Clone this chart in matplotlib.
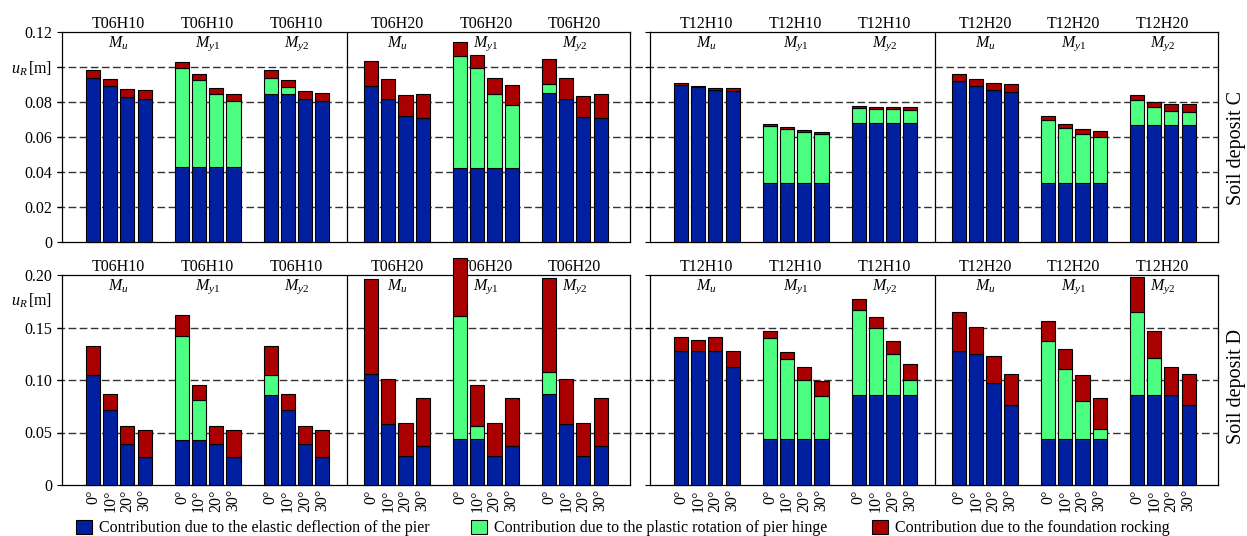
import numpy as np
import matplotlib
matplotlib.use("Agg")
import matplotlib.pyplot as plt
import matplotlib.transforms as mtransforms
from matplotlib.patches import Patch

plt.rcParams['font.family'] = ['Liberation Serif', 'DejaVu Serif']
plt.rcParams['mathtext.fontset'] = 'custom'
plt.rcParams['mathtext.rm'] = 'Liberation Serif'
plt.rcParams['mathtext.it'] = 'Liberation Serif:italic'
plt.rcParams['font.size'] = 11.5

# categories
angles = ['0°', '10°', '20°', '30°']
methods = [r'$M_u$', r'$M_{y\mathrm{1}}$', r'$M_{y\mathrm{2}}$']
legend_labels = ['Contribution due to the elastic deflection of the pier',
                 'Contribution due to the plastic rotation of pier hinge',
                 'Contribution due to the foundation rocking']

# Soil deposit C  (rows: Mu, My1, My2 ; columns: 0,10,20,30 deg)
C_T06H10_el = [[0.0936, 0.0889, 0.0831, 0.0816], [0.0426, 0.0426, 0.0426, 0.0426], [0.0845, 0.0843, 0.0818, 0.0803]]
C_T06H10_pl = [[0, 0, 0, 0], [0.0568, 0.0501, 0.0417, 0.0377], [0.0095, 0.0042, 0, 0]]
C_T06H10_ro = [[0.0048, 0.0044, 0.0044, 0.0052], [0.0032, 0.0034, 0.0036, 0.0040], [0.0044, 0.0040, 0.0046, 0.0047]]

C_T06H20_el = [[0.0893, 0.0815, 0.0718, 0.0709], [0.0425, 0.0425, 0.0425, 0.0425], [0.0850, 0.0817, 0.0716, 0.0709]]
C_T06H20_pl = [[0, 0, 0, 0], [0.0636, 0.0569, 0.0423, 0.0360], [0.0055, 0, 0, 0]]
C_T06H20_ro = [[0.0141, 0.0118, 0.0120, 0.0139], [0.0080, 0.0073, 0.0091, 0.0110], [0.0139, 0.0118, 0.0120, 0.0139]]

C_T12H10_el = [[0.0899, 0.0884, 0.0870, 0.0865], [0.0339, 0.0339, 0.0339, 0.0339], [0.0680, 0.0680, 0.0680, 0.0680]]
C_T12H10_pl = [[0, 0, 0, 0], [0.0326, 0.0307, 0.0288, 0.0278], [0.0088, 0.0078, 0.0078, 0.0076]]
C_T12H10_ro = [[0.0011, 0.0009, 0.0012, 0.0015], [0.0007, 0.0009, 0.0013, 0.0013], [0.0011, 0.0012, 0.0013, 0.0015]]

C_T12H20_el = [[0.0922, 0.0893, 0.0867, 0.0859], [0.0339, 0.0339, 0.0339, 0.0339], [0.0670, 0.0670, 0.0670, 0.0670]]
C_T12H20_pl = [[0, 0, 0, 0], [0.0360, 0.0314, 0.0278, 0.0261], [0.0141, 0.0103, 0.0080, 0.0075]]
C_T12H20_ro = [[0.0036, 0.0037, 0.0040, 0.0046], [0.0021, 0.0019, 0.0031, 0.0036], [0.0031, 0.0029, 0.0037, 0.0045]]

# Soil deposit D
D_T06H10_el = [[0.1044, 0.0711, 0.0387, 0.0270], [0.0429, 0.0429, 0.0387, 0.0267], [0.0860, 0.0711, 0.0387, 0.0270]]
D_T06H10_pl = [[0, 0, 0, 0], [0.0993, 0.0377, 0, 0], [0.0191, 0, 0, 0]]
D_T06H10_ro = [[0.0280, 0.0156, 0.0175, 0.0251], [0.0197, 0.0150, 0.0175, 0.0254], [0.0273, 0.0156, 0.0175, 0.0251]]

D_T06H20_el = [[0.1054, 0.0581, 0.0273, 0.0368], [0.0435, 0.0438, 0.0273, 0.0368], [0.0863, 0.0581, 0.0273, 0.0368]]
D_T06H20_pl = [[0, 0, 0, 0], [0.1175, 0.0121, 0, 0], [0.0216, 0, 0, 0]]
D_T06H20_ro = [[0.0911, 0.0425, 0.0317, 0.0464], [0.0552, 0.0393, 0.0314, 0.0457], [0.0889, 0.0425, 0.0317, 0.0464]]

D_T12H10_el = [[0.1279, 0.1279, 0.1279, 0.1124], [0.0435, 0.0435, 0.0435, 0.0435], [0.0860, 0.0860, 0.0860, 0.0860]]
D_T12H10_pl = [[0, 0, 0, 0], [0.0962, 0.0762, 0.0568, 0.0413], [0.0807, 0.0638, 0.0384, 0.0143]]
D_T12H10_ro = [[0.0131, 0.0102, 0.0127, 0.0155], [0.0073, 0.0070, 0.0118, 0.0139], [0.0108, 0.0105, 0.0131, 0.0146]]

D_T12H20_el = [[0.1279, 0.1248, 0.0975, 0.0759], [0.0435, 0.0435, 0.0435, 0.0435], [0.0860, 0.0860, 0.0860, 0.0759]]
D_T12H20_pl = [[0, 0, 0, 0], [0.0933, 0.0673, 0.0365, 0.0102], [0.0791, 0.0353, 0, 0]]
D_T12H20_ro = [[0.0369, 0.0254, 0.0257, 0.0295], [0.0194, 0.0184, 0.0244, 0.0295], [0.0327, 0.0254, 0.0261, 0.0295]]

blue, green, red = '#0020a0', '#4dff80', '#aa0000'
W, H = 1247, 536
width = 0.82
# first bar centre of each group inside one panel (bar pitch = 1)
group_x = [1.8, 6.97, 12.14, 17.97, 23.14, 28.31]
x_max = 33.02
divider = 16.57

fig = plt.figure(figsize=(W / 100, H / 100), dpi=100)


def draw_half(ax, xs, el, pl, ro, name):
    for g in range(3):
        x = xs[g] + np.arange(4)
        e = np.array(el[g]); p = np.array(pl[g]); r = np.array(ro[g])
        kw = dict(width=width, edgecolor='black', linewidth=0.8, zorder=3, clip_on=False)
        ax.bar(x, e, color=blue, **kw)
        ax.bar(x, p, bottom=e, color=green, **kw)
        ax.bar(x, r, bottom=e + p, color=red, **kw)
        tr = mtransforms.blended_transform_factory(ax.transData, ax.transAxes)
        ax.text(x.mean(), 1.04, name, transform=tr, ha='center', va='center', zorder=2)
        ax.text(x.mean(), 0.945, methods[g], transform=tr, ha='center', va='center', zorder=2)


rows = [
    dict(top=32, ymax=0.12, grid=[0.02, 0.04, 0.06, 0.08, 0.10], ticks=[0, 0.02, 0.04, 0.06, 0.08, 0.10, 0.12],
         labels=['0', '0.02', '0.04', '0.06', '0.08', r'$u_R\,$[m]', '0.12'],
         panels=[(C_T06H10_el, C_T06H10_pl, C_T06H10_ro, 'T06H10', C_T06H20_el, C_T06H20_pl, C_T06H20_ro, 'T06H20'),
                 (C_T12H10_el, C_T12H10_pl, C_T12H10_ro, 'T12H10', C_T12H20_el, C_T12H20_pl, C_T12H20_ro, 'T12H20')],
         side='Soil deposit C', side_y=148),
    dict(top=275, ymax=0.20, grid=[0.05, 0.10, 0.15], ticks=[0, 0.05, 0.10, 0.15, 0.20],
         labels=['0', '0.05', '0.10', '0.15', '0.20'],
         panels=[(D_T06H10_el, D_T06H10_pl, D_T06H10_ro, 'T06H10', D_T06H20_el, D_T06H20_pl, D_T06H20_ro, 'T06H20'),
                 (D_T12H10_el, D_T12H10_pl, D_T12H10_ro, 'T12H10', D_T12H20_el, D_T12H20_pl, D_T12H20_ro, 'T12H20')],
         side='Soil deposit D', side_y=386),
]

for ri, row in enumerate(rows):
    axes = []
    for ci, left in enumerate([62, 650]):
        ax = fig.add_axes([left / W, 1 - (row['top'] + 210) / H, 568 / W, 210 / H])
        ax.set_facecolor('none')
        ax.set_xlim(0, x_max)
        ax.set_ylim(0, row['ymax'])
        el1, pl1, ro1, n1, el2, pl2, ro2, n2 = row['panels'][ci]
        draw_half(ax, group_x[:3], el1, pl1, ro1, n1)
        draw_half(ax, group_x[3:], el2, pl2, ro2, n2)
        ax.axvline(divider, color='black', lw=0.9, zorder=4)
        ax.set_yticks(row['ticks'])
        if ci == 0:
            ax.set_yticklabels(row['labels'])
        else:
            ax.set_yticklabels([])
        ax.tick_params(axis='y', direction='out', length=3.6, width=0.8, pad=3.5)
        xt = np.concatenate([g + np.arange(4) for g in group_x])
        ax.set_xticks(xt)
        if ri == 1:
            ax.set_xticklabels(angles * 6, rotation=90)
        else:
            ax.set_xticklabels([])
        ax.tick_params(axis='x', length=0, pad=3)
        for s in ax.spines.values():
            s.set_linewidth(0.9)
        axes.append(ax)

    ax0 = axes[0]
    tr = mtransforms.blended_transform_factory(fig.transFigure, ax0.transData)
    for gy in row['grid']:
        ax0.plot([57 / W, 1218 / W], [gy, gy], transform=tr, color='#333333', lw=1.0,
                 ls=(0, (5.5, 2.5)), clip_on=False, zorder=1)
    if ri == 1:
        ax0.text(52 / W, 0.175, r'$u_R\,$[m]', transform=tr, ha='right', va='center')
    fig.text(1237 / W, 1 - row['side_y'] / H, row['side'], rotation=90, ha='center', va='center', fontsize=14.5)

# legend
for lx, col, lab in zip([76, 471, 872], [blue, green, red], legend_labels):
    fig.legend([Patch(facecolor=col, edgecolor='black', linewidth=0.8)], [lab],
               loc='center left', bbox_to_anchor=(lx / W, 1 - 528 / H), frameon=False,
               handlelength=1.0, handleheight=1.0, handletextpad=0.45, borderpad=0, borderaxespad=0,
               fontsize=11.5)

fig.savefig('out.png', dpi=100)
